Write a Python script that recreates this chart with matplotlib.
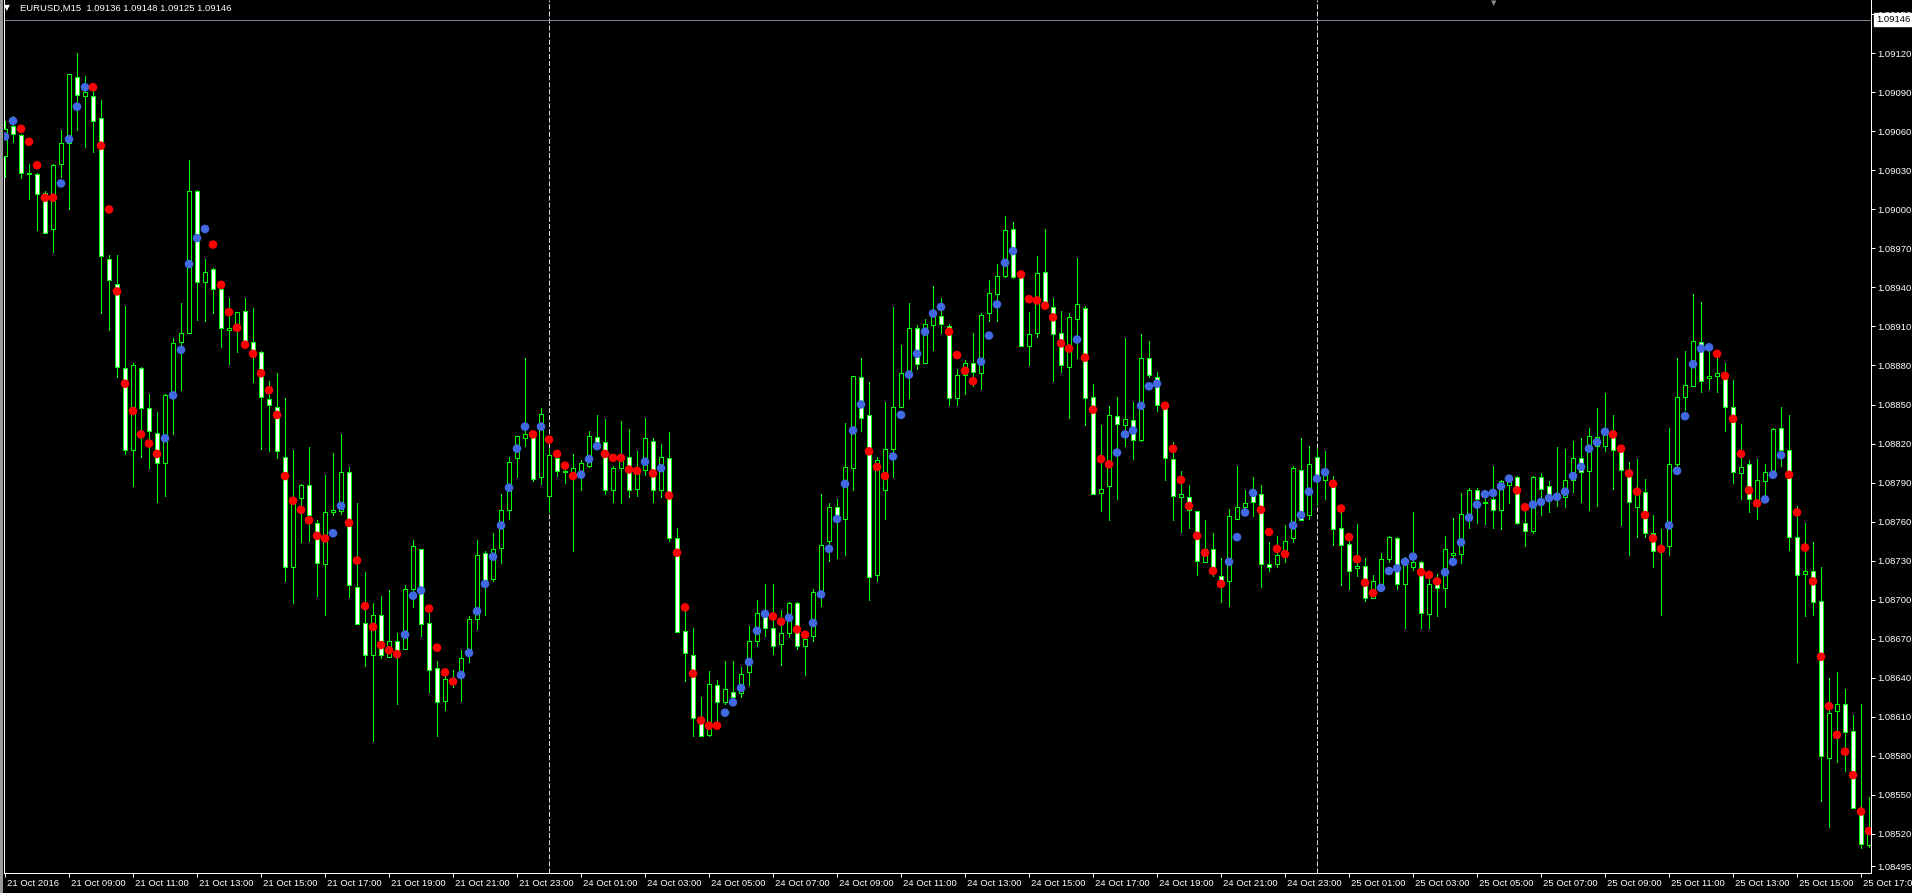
import numpy as np
import matplotlib
matplotlib.use("Agg")
import matplotlib.pyplot as plt
import matplotlib.transforms as mtransforms
from matplotlib.patches import Rectangle

plt.rcParams['font.family'] = ['Liberation Sans', 'DejaVu Sans']
plt.rcParams['lines.scale_dashes'] = False

# ---------------- data (prices in points, 1 point = 0.00001) ----------------
open_pts = [
    109041,109064,109057,109027,109027,109013,108985,109035,109051,109102,
    109087,109087,109070,108962,108943,108878,108815,108878,108847,108828,
    108805,108857,108898,108905,109014,108944,108954,108939,108907,108908,
    108922,108898,108890,108854,108848,108810,108725,108778,108788,108759,
    108727,108767,108768,108798,108710,108682,108657,108688,108656,108668,
    108662,108708,108739,108682,108647,108622,108640,108642,108659,108685,
    108736,108716,108740,108769,108809,108824,108827,108794,108780,108809,
    108798,108798,108799,108803,108825,108821,108784,108801,108810,108785,
    108800,108822,108784,108809,108747,108676,108657,108606,108596,108634,
    108621,108629,108628,108644,108668,108689,108678,108666,108674,108697,
    108664,108672,108706,108745,108771,108762,108801,108871,108842,108719,
    108784,108816,108848,108871,108909,108882,108911,108918,108910,108855,
    108873,108882,108874,108920,108935,108949,108985,108948,108895,108905,
    108952,108925,108905,108879,108916,108924,108856,108782,108787,108841,
    108834,108838,108823,108886,108871,108852,108808,108779,108779,108768,
    108729,108739,108718,108714,108762,108771,108782,108781,108727,108727,
    108734,108747,108800,108765,108810,108792,108791,108755,108743,108724,
    108726,108701,108712,108731,108747,108712,108725,108729,108689,108712,
    108709,108734,108735,108766,108784,108775,108777,108769,108788,108794,
    108759,108753,108794,108787,108779,108779,108792,108809,108799,108818,
    108818,108829,108815,108798,108771,108783,108751,108738,108741,108804,
    108856,108864,108898,108870,108872,108873,108848,108797,108804,108775,
    108791,108797,108832,108815,108748,108720,108722,108699,108578,108614,
    108620,108599,108536,108511]
high_pts = [
    109068,109072,109058,109035,109028,109014,109035,109061,109104,109120,
    109103,109091,109084,108965,108965,108926,108882,108879,108858,108844,
    108858,108901,108928,109038,109015,108962,108955,108944,108932,108921,
    108932,108924,108891,108868,108874,108855,108815,108789,108817,108761,
    108796,108813,108827,108802,108774,108721,108697,108703,108707,108674,
    108711,108746,108739,108690,108653,108646,108646,108661,108687,108746,
    108737,108751,108781,108810,108826,108886,108830,108847,108816,108813,
    108805,108812,108807,108830,108842,108839,108803,108837,108831,108814,
    108840,108824,108820,108829,108755,108693,108678,108625,108645,108638,
    108653,108653,108648,108680,108700,108712,108712,108692,108698,108698,
    108674,108708,108781,108774,108777,108836,108872,108886,108867,108810,
    108852,108925,108896,108928,108911,108916,108941,108932,108912,108877,
    108884,108905,108920,108946,108958,108995,108990,108951,108921,108964,
    108985,108932,108922,108920,108963,108926,108866,108834,108849,108856,
    108901,108852,108904,108899,108875,108852,108821,108799,108788,108768,
    108761,108751,108732,108770,108803,108784,108794,108788,108744,108749,
    108757,108803,108824,108818,108816,108814,108795,108768,108748,108758,
    108732,108719,108736,108749,108748,108733,108767,108730,108719,108720,
    108749,108763,108782,108786,108786,108784,108803,108792,108796,108795,
    108772,108795,108797,108791,108817,108816,108822,108824,108832,108847,
    108859,108842,108816,108806,108808,108793,108765,108754,108832,108886,
    108891,108935,108929,108893,108889,108882,108869,108835,108807,108808,
    108804,108832,108848,108842,108772,108759,108744,108725,108640,108644,
    108631,108611,108620,108548]
low_pts = [
    109025,109052,109024,109008,108984,108982,108967,109025,109000,109061,
    109048,109044,108920,108907,108871,108812,108787,108810,108801,108775,
    108780,108827,108861,108905,108915,108914,108920,108894,108881,108890,
    108894,108867,108816,108814,108809,108714,108697,108744,108745,108703,
    108688,108765,108766,108702,108681,108649,108591,108655,108656,108620,
    108662,108694,108672,108629,108595,108615,108633,108622,108652,108677,
    108688,108714,108728,108762,108794,108818,108791,108789,108767,108795,
    108790,108737,108784,108802,108818,108781,108775,108774,108779,108780,
    108796,108775,108779,108745,108675,108637,108595,108595,108595,108602,
    108620,108625,108625,108634,108664,108672,108658,108650,108671,108662,
    108642,108668,108695,108730,108732,108734,108784,108830,108700,108714,
    108762,108794,108848,108855,108877,108882,108892,108905,108850,108850,
    108858,108864,108862,108914,108914,108948,108947,108895,108880,108902,
    108927,108868,108875,108840,108886,108834,108781,108768,108761,108777,
    108818,108808,108822,108871,108845,108792,108761,108752,108755,108719,
    108729,108718,108698,108695,108762,108770,108764,108710,108722,108725,
    108729,108744,108761,108762,108773,108777,108742,108711,108708,108718,
    108699,108701,108712,108729,108708,108678,108723,108678,108678,108687,
    108694,108729,108728,108755,108759,108758,108755,108754,108774,108758,
    108741,108751,108765,108767,108772,108771,108783,108775,108769,108772,
    108814,108785,108757,108734,108748,108748,108725,108688,108734,108803,
    108846,108864,108860,108862,108860,108830,108790,108777,108767,108762,
    108777,108797,108803,108738,108652,108687,108688,108545,108525,108575,
    108568,108540,108509,108510]
close_pts = [
    109062,109058,109028,109028,109012,108982,109034,109051,109104,109088,
    109090,109068,108964,108946,108879,108815,108880,108847,108830,108805,
    108857,108897,108905,109014,108944,108952,108939,108909,108909,108921,
    108898,108891,108856,108850,108814,108725,108777,108788,108765,108728,
    108767,108769,108798,108711,108681,108657,108688,108657,108668,108660,
    108708,108741,108681,108646,108621,108639,108637,108655,108685,108734,
    108715,108739,108769,108806,108826,108827,108793,108843,108811,108799,
    108799,108801,108805,108826,108820,108784,108801,108810,108784,108797,
    108824,108784,108810,108747,108675,108659,108609,108595,108635,108621,
    108631,108625,108643,108668,108690,108678,108664,108674,108697,108664,
    108670,108706,108742,108771,108762,108802,108872,108840,108717,108807,
    108816,108848,108874,108909,108881,108912,108918,108912,108855,108873,
    108882,108875,108919,108936,108949,108984,108948,108895,108904,108951,
    108928,108904,108880,108917,108927,108855,108781,108785,108842,108835,
    108839,108823,108886,108873,108850,108809,108780,108781,108769,108730,
    108739,108723,108712,108764,108771,108774,108775,108727,108725,108734,
    108745,108801,108761,108804,108795,108797,108754,108742,108722,108726,
    108701,108714,108731,108748,108712,108730,108729,108690,108712,108709,
    108739,108736,108766,108784,108777,108774,108769,108791,108791,108759,
    108753,108794,108785,108781,108782,108792,108809,108798,108826,108825,
    108829,108815,108800,108775,108784,108751,108737,108741,108804,108856,
    108865,108899,108868,108872,108874,108848,108798,108802,108777,108792,
    108798,108831,108815,108748,108719,108722,108698,108580,108613,108620,
    108598,108540,108512,108521]
dot_pts = [
    109056,109068,109062,109052,109034,109009,109009,109020,109054,109079,
    109094,109094,109049,109000,108937,108866,108845,108827,108820,108812,
    108824,108857,108892,108958,108978,108985,108973,108942,108921,108909,
    108896,108889,108874,108861,108842,108795,108776,108769,108761,108749,
    108747,108751,108772,108759,108730,108695,108679,108665,108661,108658,
    108673,108703,108707,108693,108663,108644,108637,108642,108659,108691,
    108712,108733,108757,108786,108816,108833,108827,108833,108823,108812,
    108803,108795,108796,108808,108818,108812,108809,108809,108800,108799,
    108806,108797,108801,108780,108736,108694,108643,108607,108603,108603,
    108613,108621,108632,108652,108676,108689,108687,108683,108686,108677,
    108673,108682,108704,108739,108762,108789,108830,108850,108814,108802,
    108795,108810,108842,108873,108889,108906,108920,108925,108906,108888,
    108876,108868,108883,108903,108927,108959,108968,108950,108931,108930,
    108926,108917,108897,108893,108900,108886,108846,108808,108804,108813,
    108827,108830,108849,108864,108866,108849,108816,108792,108772,108749,
    108736,108722,108712,108729,108748,108767,108782,108769,108752,108739,
    108735,108757,108765,108783,108793,108798,108789,108770,108748,108731,
    108713,108705,108709,108722,108724,108729,108733,108721,108719,108714,
    108721,108729,108744,108763,108773,108781,108782,108787,108793,108784,
    108771,108773,108775,108778,108779,108783,108795,108802,108816,108821,
    108829,108827,108816,108797,108783,108765,108747,108739,108757,108799,
    108841,108881,108893,108894,108889,108872,108839,108812,108784,108774,
    108777,108796,108811,108796,108767,108740,108714,108656,108618,108596,
    108583,108565,108537,108522]
# b = indicator rising (blue dot), r = indicator falling (red dot)
dot_dir = ("bbrrrrrbbb" "brrrrrrrrr" "bbbbbbrrrr" "rrrrrrrrrr" "rbbrrrrrrr"
           "bbbrrrrbbb" "bbbbbbrbrr" "rrbbbrrrrr" "brbrrrrrrr" "bbbbbbrrbr"
           "rbbbbbbbrr" "rbbbbbbbrr" "rrbbbbbrrr" "rrrrbrrrrb" "bbbbbrrrrr"
           "rrrbbbbrrr" "rbbbbbrrrr" "rrbbbbbrrr" "bbbbbbbbbr" "rbbbbbbbbb"
           "brrrrrrrbb" "bbbbrrrrrr" "bbbrrrrrrr" "rrrr")

time_labels = ["21 Oct 2016", "21 Oct 09:00", "21 Oct 11:00", "21 Oct 13:00",
               "21 Oct 15:00", "21 Oct 17:00", "21 Oct 19:00", "21 Oct 21:00",
               "21 Oct 23:00", "24 Oct 01:00", "24 Oct 03:00", "24 Oct 05:00",
               "24 Oct 07:00", "24 Oct 09:00", "24 Oct 11:00", "24 Oct 13:00",
               "24 Oct 15:00", "24 Oct 17:00", "24 Oct 19:00", "24 Oct 21:00",
               "24 Oct 23:00", "25 Oct 01:00", "25 Oct 03:00", "25 Oct 05:00",
               "25 Oct 07:00", "25 Oct 09:00", "25 Oct 11:00", "25 Oct 13:00",
               "25 Oct 15:00", "25 Oct 17:00"]
bars_per_label = 8
day_start_bars = [68, 164]
price_ticks = [1.08495, 1.08520, 1.08550, 1.08580, 1.08610, 1.08640, 1.08670,
               1.08700, 1.08730, 1.08760, 1.08790, 1.08820, 1.08850, 1.08880,
               1.08910, 1.08940, 1.08970, 1.09000, 1.09030, 1.09060, 1.09090,
               1.09120, 1.09150]
bid_price = 1.09146
header_text = "EURUSD,M15  1.09136 1.09148 1.09125 1.09146"

# ---------------- drawing ----------------
W, H = 1912, 893
BG = "black"
GREEN = "#00FF00"
fig = plt.figure(figsize=(W / 100, H / 100), dpi=100, facecolor=BG)
ax = fig.add_axes([4 / W, (H - 873) / H, (1871 - 4) / W, 873 / H], facecolor=BG)

o = np.array(open_pts) / 1e5
h = np.array(high_pts) / 1e5
l = np.array(low_pts) / 1e5
c = np.array(close_pts) / 1e5
d = np.array(dot_pts) / 1e5
x = np.arange(len(o))

px = 0.72  # one pixel in points at 100 dpi

# day separators
for b in day_start_bars:
    ax.axvline(b, color="#D8D8D8", lw=px, dashes=(3.6, 1.5), zorder=1)

# bid line
ax.axhline(bid_price, color="#778899", lw=px, zorder=1)

# wicks
ax.vlines(x, l, h, color=GREEN, lw=px, zorder=2, antialiased=False)
# bodies: bear = white, bull = black
fills = np.where(c < o, "white", "black")
ax.bar(x, np.abs(c - o), bottom=np.minimum(o, c), width=0.5, color=fills,
       edgecolor=GREEN, linewidth=px, zorder=3, antialiased=False)

# indicator dots
dcols = ["#4169E1" if s == "b" else "#FF0000" for s in dot_dir]
ax.scatter(x, d, s=38, c=dcols, linewidths=0, zorder=4)

# limits
ax.set_xlim(-0.125, -0.125 + 1867 / 8)
y_top = 1.09120 + 53.4 * 7.69e-6
y_bot = 1.09120 - (873 - 53.4) * 7.69e-6
ax.set_ylim(y_bot, y_top)

# spines
for s in ["left", "bottom", "right"]:
    ax.spines[s].set_color("white")
    ax.spines[s].set_linewidth(px)
ax.spines["top"].set_visible(False)

# y axis on the right
ax.yaxis.tick_right()
ax.set_yticks(price_ticks)
ax.set_yticklabels([f"{p:.5f}" for p in price_ticks])
ax.tick_params(axis="y", which="both", direction="out", length=3, width=px,
               colors="white", labelsize=6.8, pad=1.5, left=False)

# x axis labels
ax.set_xticks(np.arange(len(time_labels)) * bars_per_label)
ax.set_xticklabels(time_labels)
ax.tick_params(axis="x", direction="out", length=3, width=px, colors="white",
               labelsize=6.8, pad=1.0)
shift = mtransforms.ScaledTranslation(2 / 100, 0, fig.dpi_scale_trans)
for lab in ax.get_xticklabels():
    lab.set_horizontalalignment("left")
    lab.set_transform(lab.get_transform() + shift)

# bid price box on the axis
ax.annotate(f"{bid_price:.5f}", xy=(1, bid_price), xycoords=("axes fraction", "data"),
            xytext=(3.5, 0), textcoords="offset points", ha="left", va="center",
            fontsize=6.8, color="black", annotation_clip=False, zorder=10,
            bbox=dict(boxstyle="square,pad=0.2", fc="white", ec="white"))

# header
fig.text(4 / W, 1 - 8 / H, "\u25BC", color="white", fontsize=5.5, ha="left", va="center",
         family=["DejaVu Sans"])
fig.text(20 / W, 1 - 8 / H, header_text, color="white", fontsize=6.8, ha="left", va="center")
# chart shift marker
fig.text(1494 / W, 1 - 3 / H, "\u25BC", color="#8C8C8C", fontsize=5, ha="center", va="center",
         family=["DejaVu Sans"])

# window border strip at left
fig.patches.append(Rectangle((0, 0), 3 / W, 1, transform=fig.transFigure,
                             facecolor="#9A9A9A", edgecolor="none", zorder=5))

fig.savefig("out.png", dpi=100, facecolor=BG)
